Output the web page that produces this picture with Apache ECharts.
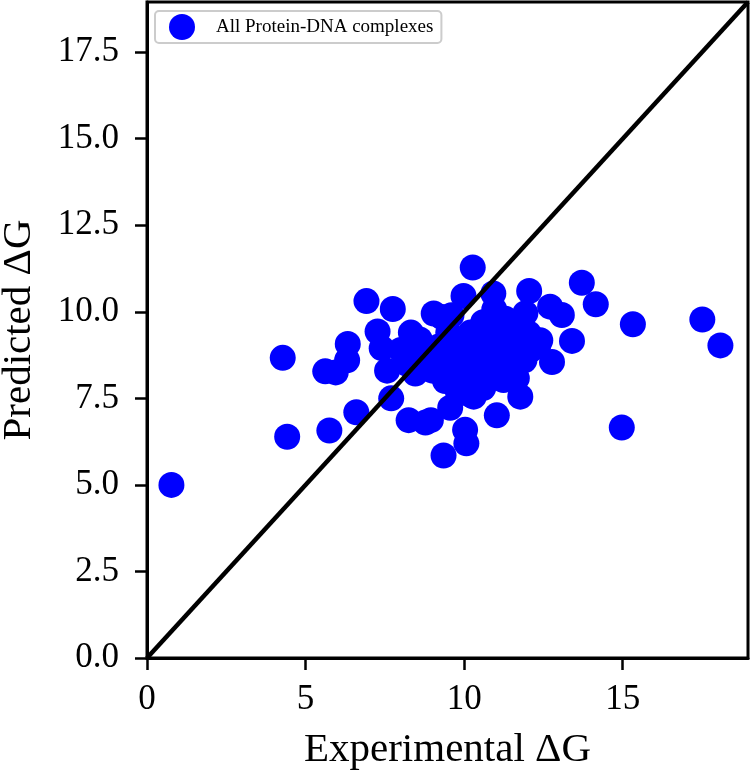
<!DOCTYPE html>
<html>
<head>
<meta charset="utf-8">
<script src="https://cdn.jsdelivr.net/npm/echarts@6/dist/echarts.min.js"></script>
<style>
html,body{margin:0;padding:0;background:#fff;}
#chart{width:752px;height:773px;}
</style>
</head>
<body>
<div id="chart"></div>
<script>
const seriesName = 'All Protein-DNA complexes';
const experimental = [
  0.77, 4.28, 4.42, 5.62, 5.95, 6.33, 6.31, 5.75, 6.60, 6.92,
  7.75, 7.27, 7.40, 7.57, 7.70, 8.25, 8.78, 8.95, 9.35, 9.56,
  10.03, 10.07, 10.30, 11.03, 11.77, 11.24, 11.66, 12.77, 13.40, 13.08,
  12.71, 12.40, 12.03, 12.34, 13.71, 14.15, 15.32, 17.51, 18.08, 14.97,
  12.05, 10.27, 9.98, 10.92, 10.95, 11.93, 9.04, 8.32, 8.46, 9.30,
  8.00, 8.20, 8.60, 8.80, 9.00, 9.20, 9.30, 9.50, 9.60, 9.70,
  9.80, 9.90, 10.00, 10.10, 10.20, 10.30, 10.40, 10.50, 10.60, 10.70,
  10.80, 10.90, 11.00, 11.10, 11.30, 11.40, 11.50, 11.60, 11.80, 11.90,
  10.20, 9.80, 9.40, 10.60, 11.30, 9.60, 8.50, 10.00, 11.70, 12.10
];
const predicted = [
  5.00, 8.67, 6.39, 8.28, 8.25, 9.07, 8.60, 6.57, 7.10, 10.31,
  10.08, 9.43, 8.95, 8.30, 7.50, 6.87, 6.80, 6.87, 5.85, 7.23,
  6.59, 6.20, 7.55, 7.01, 7.55, 8.03, 8.08, 8.55, 9.16, 9.91,
  10.15, 9.18, 9.38, 9.04, 10.84, 10.22, 9.64, 9.78, 9.03, 6.66,
  10.60, 11.28, 10.46, 10.53, 10.07, 9.96, 9.95, 9.40, 8.22, 9.85,
  8.90, 8.50, 9.20, 8.60, 8.30, 9.00, 8.60, 9.40, 8.20, 8.80,
  9.20, 8.50, 7.90, 8.90, 9.40, 8.30, 8.70, 9.10, 7.80, 8.50,
  9.30, 8.10, 8.80, 9.50, 8.50, 9.10, 8.20, 8.80, 9.20, 8.60,
  7.60, 7.70, 8.00, 9.70, 9.80, 9.90, 8.80, 9.00, 9.60, 8.90
];
const axisMin = 0;
const axisMax = 18.95;
const xTicks = [0, 5, 10, 15];
const yTicks = [0, 2.5, 5, 7.5, 10, 12.5, 15, 17.5];
const diagonal = [0, 18.95];

const points = experimental.map((x, i) => [x, predicted[i]]);
const font = 'Liberation Serif';

const chart = echarts.init(document.getElementById('chart'), null, {renderer: 'canvas'});
chart.setOption({
  animation: false,
  backgroundColor: '#ffffff',
  grid: {
    left: 147, right: 4, top: 2, bottom: 115,
    containLabel: false, outerBoundsMode: 'none',
    show: true, borderColor: '#000', borderWidth: 3, backgroundColor: 'transparent'
  },
  legend: {
    data: [{name: seriesName, icon: 'circle'}],
    left: 155, top: 11,
    itemWidth: 26, itemHeight: 26,
    padding: [3, 8, 3, 14],
    borderColor: '#cccccc', borderWidth: 2, borderRadius: 4,
    backgroundColor: '#ffffff',
    textStyle: {fontFamily: font, fontSize: 19, color: '#000', padding: [0, 0, 0, 16]}
  },
  xAxis: {
    type: 'value', min: axisMin, max: axisMax,
    name: 'Experimental ΔG', nameLocation: 'middle', nameGap: 72,
    nameTextStyle: {fontFamily: font, fontSize: 41, color: '#000'},
    axisLine: {show: true, onZero: false, lineStyle: {color: '#000', width: 3}},
    axisTick: {show: true, length: 12, lineStyle: {color: '#000', width: 2.5}, customValues: xTicks},
    axisLabel: {fontFamily: font, fontSize: 35, color: '#000', margin: 24, customValues: xTicks},
    splitLine: {show: false}
  },
  yAxis: {
    type: 'value', min: axisMin, max: axisMax,
    name: 'Predicted ΔG', nameLocation: 'middle', nameGap: 107, nameRotate: 90,
    nameTextStyle: {fontFamily: font, fontSize: 41, color: '#000'},
    axisLine: {show: true, onZero: false, lineStyle: {color: '#000', width: 3}},
    axisTick: {show: true, length: 12, lineStyle: {color: '#000', width: 2.5}, customValues: yTicks},
    axisLabel: {fontFamily: font, fontSize: 35, color: '#000', margin: 28, customValues: yTicks,
      formatter: v => v.toFixed(1)},
    splitLine: {show: false}
  },
  series: [
    {
      name: seriesName, type: 'scatter', data: points,
      symbol: 'circle', symbolSize: 26,
      itemStyle: {color: '#0000ff', opacity: 1},
      z: 2
    },
    {
      name: 'diag', type: 'line',
      data: diagonal.map(v => [v, v]),
      symbol: 'none', lineStyle: {color: '#000', width: 4.5},
      z: 3, silent: true
    }
  ]
});
</script>
</body>
</html>
